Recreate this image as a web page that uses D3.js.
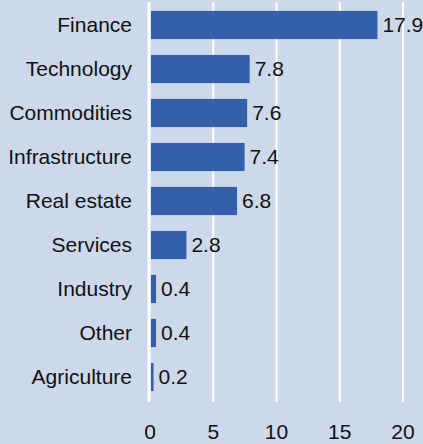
<!DOCTYPE html>
<html>
<head>
<meta charset="utf-8">
<script src="https://cdn.jsdelivr.net/npm/d3@7"></script>
<style>
  body { margin: 0; background: #cdd8ea; }
  svg { display: block; font-family: "Liberation Sans", Arial, sans-serif; }
</style>
</head>
<body>
<div id="chart"><svg width="423" height="444"></svg></div>
<script>
var categories = ["Finance", "Technology", "Commodities", "Infrastructure", "Real estate", "Services", "Industry", "Other", "Agriculture"];
var values = [17.9, 7.8, 7.6, 7.4, 6.8, 2.8, 0.4, 0.4, 0.2];
var ticks = [0, 5, 10, 15, 20];

var width = 423, height = 444;
var svg = d3.select('#chart').select('svg');

svg.append('rect')
    .attr('width', width)
    .attr('height', height)
    .attr('fill', '#cdd8ea');

var x = d3.scaleLinear().domain([0, 20]).range([150, 403]);
var y = d3.scaleBand().domain(categories).range([3, 399]).paddingInner(0.36).paddingOuter(0.18);

// vertical grid
svg.append('g').selectAll('line')
    .data(ticks)
    .enter().append('line')
    .attr('x1', d => x(d) - (d === 0 ? 1 : 0))
    .attr('x2', d => x(d) - (d === 0 ? 1 : 0))
    .attr('y1', 2)
    .attr('y2', 402)
    .attr('stroke', '#ffffff')
    .attr('stroke-width', d => d === 0 ? 3 : 2);

var data = categories.map((c, i) => ({cat: c, val: values[i]}));

svg.append('g').selectAll('rect')
    .data(data)
    .enter().append('rect')
    .attr('x', x(0) + 1)
    .attr('y', d => y(d.cat))
    .attr('width', d => x(d.val) - x(0))
    .attr('height', y.bandwidth())
    .attr('fill', '#335fab');

// category labels
svg.append('g').selectAll('text')
    .data(data)
    .enter().append('text')
    .attr('x', 132)
    .attr('y', d => y(d.cat) + y.bandwidth() / 2)
    .attr('dy', '0.35em')
    .attr('text-anchor', 'end')
    .attr('font-size', 21)
    .attr('fill', '#111')
    .text(d => d.cat);

// value labels
svg.append('g').selectAll('text')
    .data(data)
    .enter().append('text')
    .attr('x', d => x(d.val) + 6)
    .attr('y', d => y(d.cat) + y.bandwidth() / 2)
    .attr('dy', '0.35em')
    .attr('font-size', 21)
    .attr('fill', '#111')
    .text(d => d.val.toFixed(1));

// x axis tick labels
svg.append('g').selectAll('text')
    .data(ticks)
    .enter().append('text')
    .attr('x', d => x(d))
    .attr('y', 432)
    .attr('dy', '0.35em')
    .attr('text-anchor', 'middle')
    .attr('font-size', 21)
    .attr('fill', '#111')
    .text(d => d);
</script>
</body>
</html>
